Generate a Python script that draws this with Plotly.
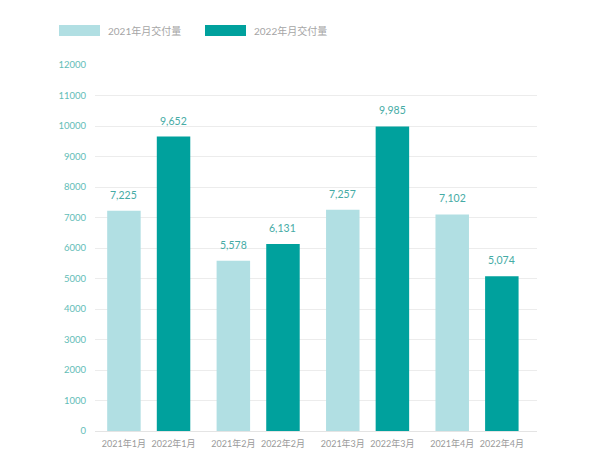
import plotly.graph_objects as go

# ---- data ----
months = ["1月", "2月", "3月", "4月"]
series_names = ["2021年月交付量", "2022年月交付量"]
years = ["2021年", "2022年"]
deliveries_2021 = [7225, 5578, 7257, 7102]
deliveries_2022 = [9652, 6131, 9985, 5074]
y_ticks = list(range(0, 12001, 1000))

# ---- styles ----
LIGHT = "#b1dfe3"
DARK = "#00a19d"
LABEL_C = "#45aba5"
YTICK_C = "#62bdb7"
XTICK_C = "#9a9a9a"
GRID_C = "#ececec"
FONT = "Lato, 'Noto Sans CJK SC', sans-serif"

W, H = 600, 466
ML, MR, MT, MB = 95, 63, 65, 35
pw, ph = W - ML - MR, H - MT - MB

d = 0.2267   # offset of each bar from the month centre
bw = 0.306   # bar width

idx = list(range(len(months)))
x21 = [i - d for i in idx]
x22 = [i + d for i in idx]

fig = go.Figure()
for xs, vals, col, name in [(x21, deliveries_2021, LIGHT, series_names[0]),
                            (x22, deliveries_2022, DARK, series_names[1])]:
    fig.add_trace(go.Bar(
        x=xs, y=vals, width=bw, name=name,
        marker=dict(color=col, line=dict(width=0)),
        showlegend=False, hoverinfo="x+y",
    ))
    for xv, yv in zip(xs, vals):
        fig.add_annotation(x=xv, y=yv, xref="x", yref="y", text=f"{yv:,}",
                           showarrow=False, yanchor="bottom", yshift=8,
                           font=dict(color=LABEL_C, size=10.5, family=FONT))

tickvals = []
ticktext = []
for i, m in enumerate(months):
    tickvals += [x21[i], x22[i]]
    ticktext += [years[0] + m, years[1] + m]

fig.update_layout(
    width=W, height=H,
    margin=dict(l=ML, r=MR, t=MT, b=MB),
    paper_bgcolor="white", plot_bgcolor="white",
    font=dict(family=FONT),
    barmode="overlay",
    xaxis=dict(range=[-0.491, 3.548], tickmode="array", tickvals=tickvals,
               ticktext=ticktext, showgrid=False, zeroline=False,
               showline=False, ticks="",
               tickfont=dict(color=XTICK_C, size=9, family=FONT),
               ticklabelstandoff=6),
    yaxis=dict(range=[0, 12000], tickmode="array", tickvals=y_ticks,
               ticktext=[str(v) for v in y_ticks],
               showgrid=True, gridcolor=GRID_C, gridwidth=1,
               zeroline=True, zerolinecolor="#e4e4e4", zerolinewidth=1,
               showline=False, ticks="",
               tickfont=dict(color=YTICK_C, size=9.5, family=FONT),
               ticklabelstandoff=8),
)

# ---- custom legend (long rectangles) ----
def px_x(p):
    return (p - ML) / pw

def px_y(p):
    return 1 + (MT - p) / ph

legend_items = [(59, LIGHT, series_names[0]), (205, DARK, series_names[1])]
for x0, col, name in legend_items:
    fig.add_shape(type="rect", xref="paper", yref="paper",
                  x0=px_x(x0), x1=px_x(x0 + 41), y0=px_y(36), y1=px_y(25),
                  fillcolor=col, line=dict(width=0))
    fig.add_annotation(xref="paper", yref="paper", x=px_x(x0 + 47), y=px_y(30.5),
                       text=name, showarrow=False, xanchor="left", yanchor="middle",
                       font=dict(color="#a5a5a5", size=10, family=FONT))

fig.write_html("out.html")
